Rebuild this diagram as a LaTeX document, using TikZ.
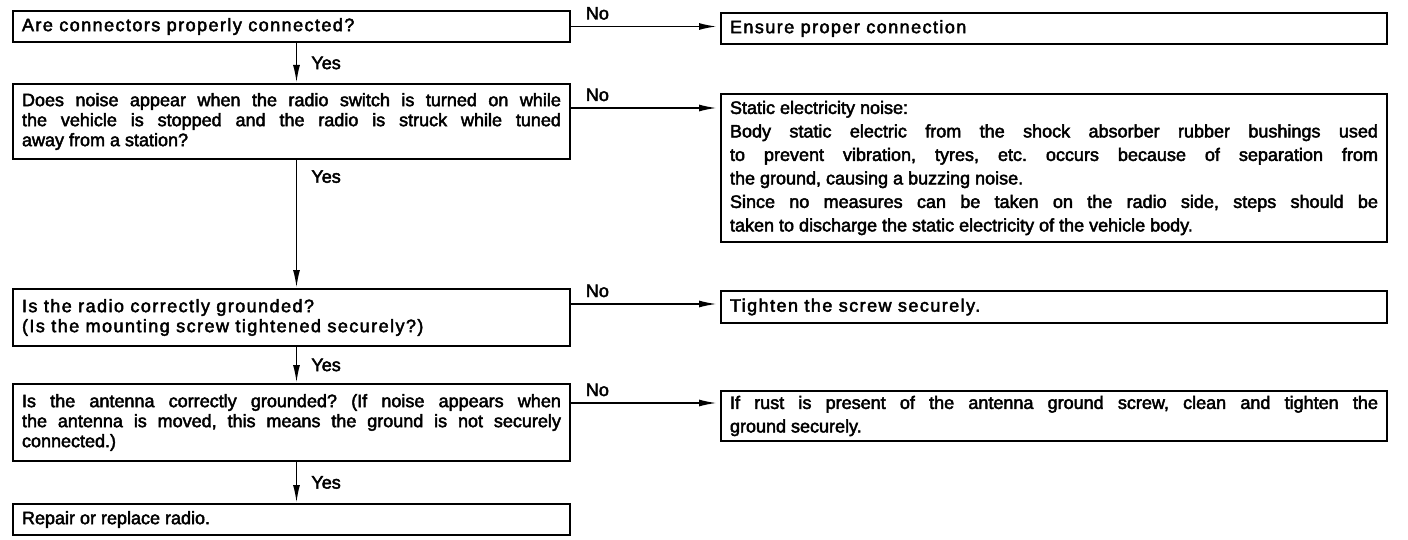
\documentclass[tikz,border=0pt]{standalone}
\usepackage{fontspec}
\setmainfont[FakeBold=2.5]{Liberation Sans}
\newfontfamily\widefont[FakeBold=2.5, LetterSpace=8]{Liberation Sans}
\usetikzlibrary{arrows.meta}

\tikzset{
  qbox/.style={draw, line width=2pt, anchor=north west, inner xsep=9pt, inner ysep=0pt,
    text width=539pt, align=justify, font=\fontsize{18}{20}\selectfont\frenchspacing},
  abox/.style={qbox, text width=648pt, font=\fontsize{18}{23.5}\selectfont\frenchspacing},
  spaced/.style={font=\widefont\fontsize{18}{20}\selectfont},
  arr/.style={-{Latex[length=18pt, width=7pt]}, line width=1.8pt},
  nolabel/.style={anchor=base west, inner sep=0pt, xshift=14pt, yshift=7pt, font=\fontsize{18}{20}\selectfont},
  yeslabel/.style={anchor=west, inner sep=0pt, xshift=14pt, font=\fontsize{18}{20}\selectfont}
}

\begin{document}
\begin{tikzpicture}[x=1pt, y=-1pt]
  \useasboundingbox [fill=white] (0, 0) rectangle (1408, 540);

  % questions, left column
  \node [qbox, spaced, minimum height=31pt] (q1) at (12, 10) {Are connectors properly connected?};
  \node [qbox, minimum height=75pt] (q2) at (12, 83)
  {Does noise appear when the radio switch is turned on while\linebreak
   the vehicle is stopped and the radio is struck while tuned\linebreak
   away from a station?};
  \node [qbox, spaced, minimum height=57pt] (q3) at (12, 288)
  {Is the radio correctly grounded?\\(Is the mounting screw tightened securely?)};
  \node [qbox, minimum height=77pt] (q4) at (12, 383)
  {Is the antenna correctly grounded? (If noise appears when\linebreak
   the antenna is moved, this means the ground is not securely\linebreak
   connected.)};
  \node [qbox, minimum height=31pt] (q5) at (12, 503) {Repair or replace radio.};

  % answers, right column
  \node [abox, spaced, minimum height=31pt] (a1) at (720, 12) {Ensure proper connection};
  \node [abox, minimum height=148pt] (a2) at (720, 93)
  {Static electricity noise:\\
   Body static electric from the shock absorber rubber bushings used\linebreak
   to prevent vibration, tyres, etc. occurs because of separation from\linebreak
   the ground, causing a buzzing noise.\\
   Since no measures can be taken on the radio side, steps should be\linebreak
   taken to discharge the static electricity of the vehicle body.};
  \node [abox, spaced, minimum height=32pt] (a3) at (720, 290) {Tighten the screw securely.};
  \node [abox, minimum height=50pt] (a4) at (720, 390)
  {If rust is present of the antenna ground screw, clean and tighten the\linebreak
   ground securely.};

  % No branches
  \coordinate (n2) at ([yshift=-25pt]q2.north east);
  \coordinate (n3) at ([yshift=-16pt]q3.north east);
  \coordinate (n4) at ([yshift=-20pt]q4.north east);
  \draw [arr, shorten >=3pt] (q1.east) -- (q1.east -| a1.west) node [nolabel, pos=0] {No};
  \draw [arr, shorten >=3pt] (n2) -- (n2 -| a2.west) node [nolabel, pos=0] {No};
  \draw [arr, shorten >=3pt] (n3) -- (n3 -| a3.west) node [nolabel, pos=0] {No};
  \draw [arr, shorten >=3pt] (n4) -- (n4 -| a4.west) node [nolabel, pos=0] {No};

  % Yes branches
  \draw [arr] ([xshift=5pt]q1.south) -- ([xshift=5pt]q2.north) node [yeslabel, midway] {Yes};
  \draw [arr] ([xshift=5pt]q2.south) -- ([xshift=5pt]q3.north) node [yeslabel, pos=0.13] {Yes};
  \draw [arr] ([xshift=5pt]q3.south) -- ([xshift=5pt]q4.north) node [yeslabel, midway] {Yes};
  \draw [arr] ([xshift=5pt]q4.south) -- ([xshift=5pt]q5.north) node [yeslabel, midway] {Yes};
\end{tikzpicture}
\end{document}
